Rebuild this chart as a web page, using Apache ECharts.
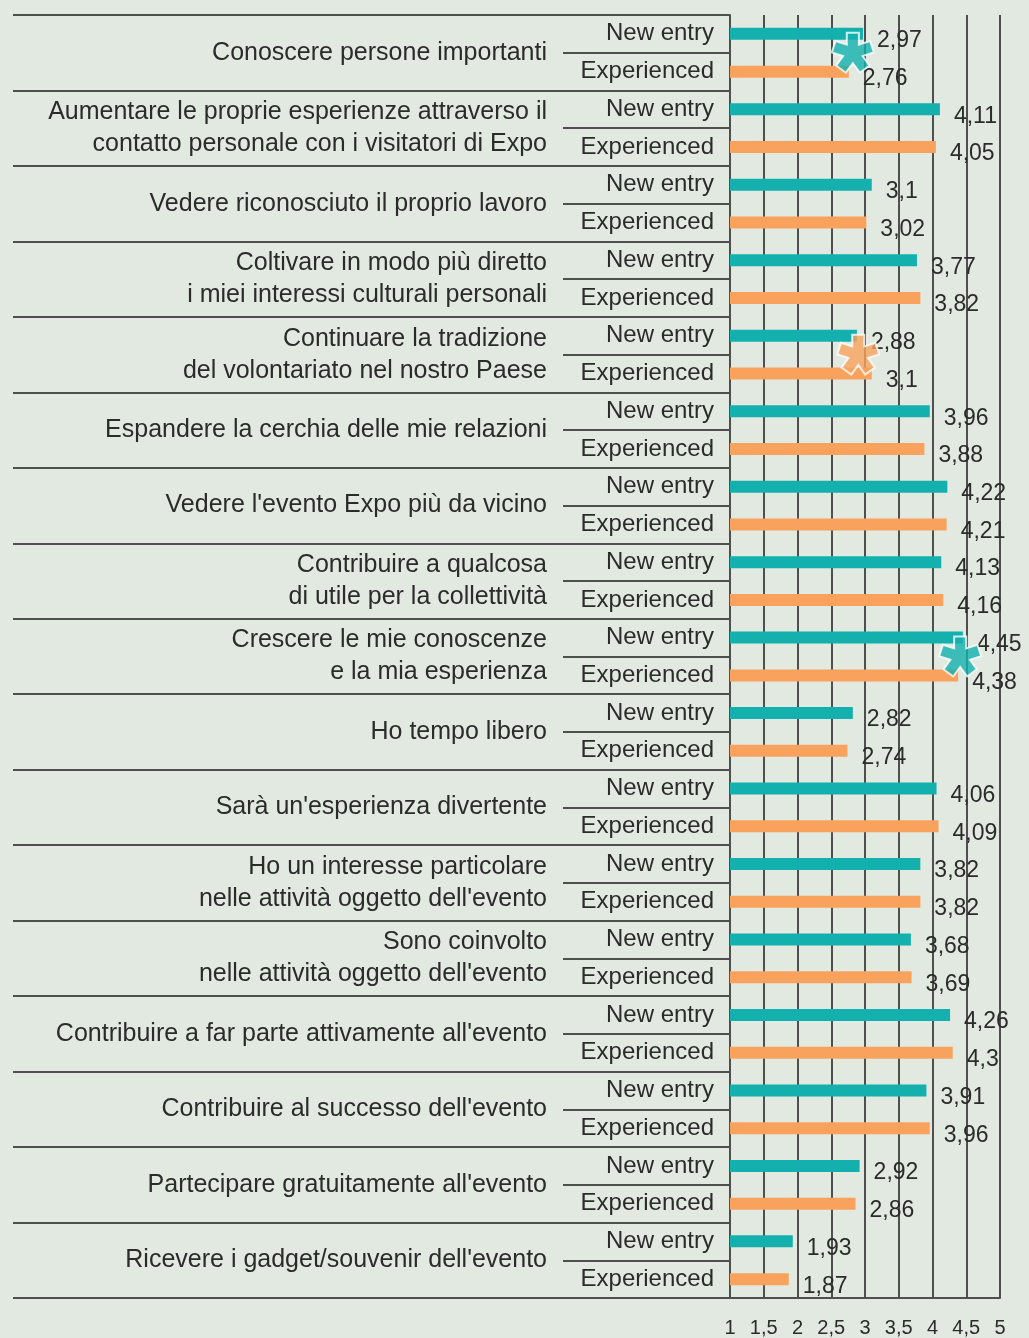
<!DOCTYPE html>
<html lang="it">
<head>
    <meta charset="UTF-8">
    <title>Motivazioni: New entry vs Experienced</title>
    <script src="https://cdn.jsdelivr.net/npm/echarts@6.0.0/dist/echarts.min.js"></script>
    <style>
        body { margin: 0; padding: 0; background-color: #e2e9e0; }
        #chart { width: 1029px; height: 1338px; }
    </style>
</head>
<body>
    <div id="chart"></div>
    <script>
        // categorie (motivazioni)
        const groups = [
            'Conoscere persone importanti',
            'Aumentare le proprie esperienze attraverso il\ncontatto personale con i visitatori di Expo',
            'Vedere riconosciuto il proprio lavoro',
            'Coltivare in modo più diretto\ni miei interessi culturali personali',
            'Continuare la tradizione\ndel volontariato nel nostro Paese',
            'Espandere la cerchia delle mie relazioni',
            "Vedere l'evento Expo più da vicino",
            'Contribuire a qualcosa\ndi utile per la collettività',
            'Crescere le mie conoscenze\ne la mia esperienza',
            'Ho tempo libero',
            "Sarà un'esperienza divertente",
            "Ho un interesse particolare\nnelle attività oggetto dell'evento",
            "Sono coinvolto\nnelle attività oggetto dell'evento",
            "Contribuire a far parte attivamente all'evento",
            "Contribuire al successo dell'evento",
            "Partecipare gratuitamente all'evento",
            "Ricevere i gadget/souvenir dell'evento"
        ];
        const newEntry = [2.97, 4.11, 3.1, 3.77, 2.88, 3.96, 4.22, 4.13, 4.45, 2.82, 4.06, 3.82, 3.68, 4.26, 3.91, 2.92, 1.93];
        const experienced = [2.76, 4.05, 3.02, 3.82, 3.1, 3.88, 4.21, 4.16, 4.38, 2.74, 4.09, 3.82, 3.69, 4.3, 3.96, 2.86, 1.87];

        // asterischi (differenza significativa)
        const starGroup = [0, 4, 8];
        const starX = [2.82, 2.9, 4.41];
        const starSeries = ['new', 'exp', 'new'];

        const TEAL = '#13b0ae';
        const ORANGE = '#f9a25d';
        const LINE = '#4f4f4f';
        const TEXT = '#2b2b2b';
        const FONT = 'Liberation Sans';

        const rowLabels = [];
        groups.forEach(function () { rowLabels.push('New entry', 'Experienced'); });

        const comma = function (v) { return String(v).replace('.', ','); };

        // asterisco a 5 bracci
        function asteriskPath() {
            const L = 10, h = 3;
            const pts = [];
            for (let k = 0; k < 5; k++) {
                const a = (-90 + 72 * k) * Math.PI / 180;
                const ux = Math.cos(a), uy = Math.sin(a);
                const nx = -uy, ny = ux;
                pts.push([L * ux - h * nx, L * uy - h * ny]);
                pts.push([L * ux + h * nx, L * uy + h * ny]);
                const m = a + 36 * Math.PI / 180;
                const r = h / Math.sin(36 * Math.PI / 180);
                pts.push([r * Math.cos(m), r * Math.sin(m)]);
            }
            return 'path://M' + pts.map(function (p) {
                return (p[0] + 12).toFixed(2) + ',' + (p[1] + 12).toFixed(2);
            }).join('L') + 'Z';
        }
        const STAR = asteriskPath();

        const valueLabel = {
            show: true, position: 'right', distance: 14, offset: [0, 7],
            color: TEXT, fontSize: 23, fontFamily: FONT,
            formatter: function (p) { return comma(p.value); }
        };

        const chart = echarts.init(document.getElementById('chart'));
        chart.setOption({
            backgroundColor: '#e2e9e0',
            animation: false,
            textStyle: { fontFamily: FONT },
            grid: { left: 730, right: 29, top: 15, bottom: 38 },
            xAxis: {
                type: 'value',
                min: 1,
                max: 5,
                interval: 0.5,
                axisLine: { show: true, lineStyle: { color: LINE, width: 2 } },
                axisTick: { show: false },
                splitLine: { show: true, lineStyle: { color: LINE, width: 2 } },
                axisLabel: {
                    color: TEXT, fontSize: 20, margin: 20, fontFamily: FONT,
                    formatter: comma
                }
            },
            yAxis: [{
                type: 'category',
                data: groups,
                inverse: true,
                position: 'left',
                axisLine: { show: true, lineStyle: { color: LINE, width: 2 } },
                axisTick: { show: true, length: 717, interval: 0, lineStyle: { color: LINE, width: 2 } },
                axisLabel: {
                    color: TEXT, fontSize: 25, lineHeight: 32, margin: 183, fontFamily: FONT,
                    padding: [6, 0, 0, 0]
                }
            }, {
                type: 'category',
                data: rowLabels,
                inverse: true,
                position: 'left',
                axisLine: { show: false },
                axisTick: { show: true, length: 167, interval: 0, lineStyle: { color: LINE, width: 2 } },
                axisLabel: {
                    color: TEXT, fontSize: 24, margin: 16, interval: 0, fontFamily: FONT,
                    padding: [6, 0, 0, 0]
                }
            }],
            series: [{
                name: 'New entry',
                type: 'bar',
                yAxisIndex: 0,
                data: newEntry,
                barWidth: 12,
                barGap: '215%',
                itemStyle: { color: TEAL },
                label: valueLabel
            }, {
                name: 'Experienced',
                type: 'bar',
                yAxisIndex: 0,
                data: experienced,
                barWidth: 12,
                itemStyle: { color: ORANGE },
                label: valueLabel
            }, {
                type: 'scatter',
                yAxisIndex: 0,
                symbol: STAR,
                symbolSize: 42,
                symbolKeepAspect: true,
                z: 5,
                data: starGroup.map(function (g, i) {
                    return {
                        value: [starX[i], groups[g]],
                        itemStyle: {
                            color: starSeries[i] === 'new' ? TEAL : ORANGE,
                            borderColor: '#ffffff',
                            borderWidth: 2
                        }
                    };
                })
            }]
        });
    </script>
</body>
</html>
